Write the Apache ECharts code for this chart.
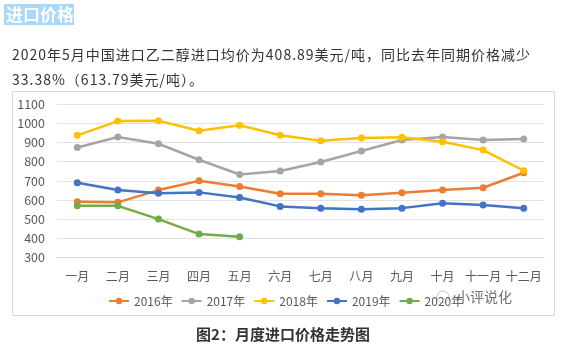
<!DOCTYPE html>
<html><head><meta charset="utf-8">
<script src="https://cdn.jsdelivr.net/npm/echarts@6/dist/echarts.min.js"></script>
<style>html,body{margin:0;padding:0;background:#fff}#wrap{position:relative;width:567px;height:351px}#c{width:567px;height:351px}
.p{position:absolute;left:12px;font-family:"Noto Sans CJK SC","Noto Sans",sans-serif;font-size:14px;color:#333;letter-spacing:1px;white-space:nowrap;line-height:20px}
</style>
</head><body><div id="wrap"><div id="c"></div><div class="p" id="l1" style="top:44px"></div><div class="p" id="l2" style="top:69px"></div></div>
<script>
const months = ['一月','二月','三月','四月','五月','六月','七月','八月','九月','十月','十一月','十二月'];
const seriesNames = ['2016年','2017年','2018年','2019年','2020年'];
const y2016 = [591, 588, 652, 700, 671, 633, 633, 625, 638, 652, 664, 742];
const y2017 = [874, 928, 893, 810, 733, 751, 798, 855, 913, 928, 913, 918];
const y2018 = [937, 1011, 1013, 961, 989, 937, 909, 923, 927, 904, 860, 753];
const y2019 = [690, 652, 635, 640, 613.79, 567, 557, 552, 558, 584, 574, 557];
const y2020 = [570, 570, 501, 423, 408.89];
const yTicks = {min: 300, max: 1100, interval: 100};
const colors = ['#ED7D31','#A5A5A5','#FFC000','#4472C4','#70AD47'];
const headerText = '进口价格';
const paraLine1 = '2020年5月中国进口乙二醇进口均价为408.89美元/吨，同比去年同期价格减少';
const paraLine2 = '33.38%（613.79美元/吨）。';
const caption = '图2：月度进口价格走势图';
const watermark = '小评说化';

document.getElementById('l1').textContent = paraLine1;
document.getElementById('l2').textContent = paraLine2;

const F = '"Noto Sans CJK SC", "Noto Sans", sans-serif';
const chart = echarts.init(document.getElementById('c'));
const allData = [y2016, y2017, y2018, y2019, y2020];
chart.setOption({
  animation: false,
  textStyle: {fontFamily: F},
  grid: {left: 57, right: 23, top: 104, bottom: 93.3},
  xAxis: {
    type: 'category', data: months, boundaryGap: true,
    axisLine: {lineStyle: {color: '#d9d9d9'}}, axisTick: {show: false},
    axisLabel: {color: '#595959', fontSize: 12, margin: 13, fontFamily: F, interval: 0}
  },
  yAxis: {
    type: 'value', min: yTicks.min, max: yTicks.max, interval: yTicks.interval,
    axisLine: {show: false}, axisTick: {show: false},
    splitLine: {lineStyle: {color: '#e3e3e3'}},
    axisLabel: {color: '#595959', fontSize: 12.5, margin: 12, fontFamily: F, formatter: v => String(v)}
  },
  legend: {
    left: 103, top: 290, itemWidth: 20, itemHeight: 8, itemGap: 8,
    textStyle: {color: '#595959', fontSize: 12, fontFamily: F},
    data: seriesNames
  },
  series: seriesNames.map((n, i) => ({
    name: n, type: 'line', data: allData[i],
    symbol: 'circle', symbolSize: 7,
    lineStyle: {width: 2.5, color: colors[i]},
    itemStyle: {color: colors[i]}
  })),
  graphic: [
    {type: 'rect', shape: {x: 4, y: 4, width: 70, height: 21}, style: {fill: '#a9d8f8'}},
    {type: 'text', x: 6, y: 14.5, style: {text: headerText, fill: '#fff', fontSize: 17, fontWeight: 'bold', fontFamily: F, textVerticalAlign: 'middle'}},
    {type: 'rect', shape: {x: 12.5, y: 91.5, width: 542, height: 224}, style: {fill: 'none', stroke: '#d9d9d9', lineWidth: 1}, z: -1},
    {type: 'circle', shape: {cx: 443, cy: 297, r: 6}, style: {fill: 'none', stroke: '#c8c8c8', lineWidth: 1}},
    {type: 'text', x: 456, y: 297, style: {text: watermark, fill: '#6f6f6f', fontSize: 14, fontFamily: F, textVerticalAlign: 'middle'}},
    {type: 'text', x: 283, y: 334, style: {text: caption, fill: '#333', fontSize: 15, fontWeight: 'bold', fontFamily: F, textAlign: 'center', textVerticalAlign: 'middle'}}
  ]
});
</script></body></html>
